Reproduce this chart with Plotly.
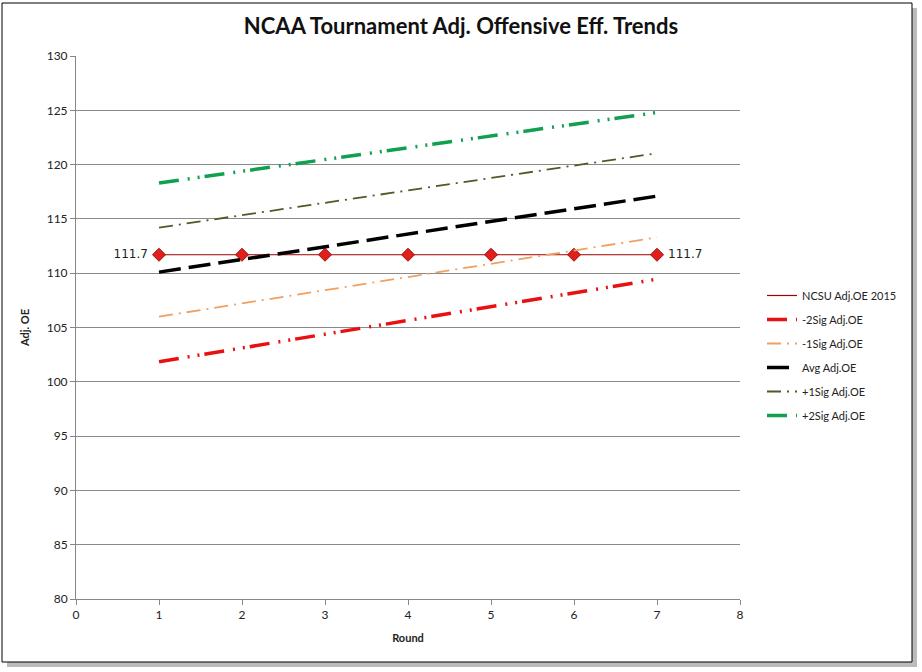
import plotly.graph_objects as go

# ---- data ----
rounds = [1, 2, 3, 4, 5, 6, 7]
ncsu_oe = [111.7, 111.7, 111.7, 111.7, 111.7, 111.7, 111.7]
trend_rounds = [1, 7]
minus2 = [101.85, 109.45]
minus1 = [106.0, 113.3]
avg = [110.1, 117.1]
plus1 = [114.2, 121.05]
plus2 = [118.3, 124.8]

title = "NCAA Tournament Adj. Offensive Eff. Trends"
FONT = "Lato, Open Sans, sans-serif"

fig = go.Figure()

# legend-only entry (line only, as in the reference legend)
fig.add_trace(go.Scatter(
    x=[None], y=[None], name="NCSU Adj.OE 2015", mode="lines",
    line=dict(color="#A00000", width=1.2), legendgroup="a",
))

labels = ["111.7 "] + [""] * 5 + [" 111.7"]
fig.add_trace(go.Scatter(
    x=rounds, y=ncsu_oe, name="NCSU Adj.OE 2015", mode="lines+markers+text",
    line=dict(color="#A00000", width=1),
    marker=dict(symbol="diamond", size=10, color="#E0201A", line=dict(color="#A01010", width=1)),
    text=labels,
    textposition=["middle left"] + ["middle center"] * 5 + ["middle right"],
    textfont=dict(size=12, color="#222222", family="DejaVu Sans, Verdana, sans-serif"),
    legendgroup="a", showlegend=False,
))

series = [
    ("-2Sig Adj.OE", minus2, "#E81010", 3.5, "20px,9px,2px,8px,2px,5px", "b"),
    ("-1Sig Adj.OE", minus1, "#F0A060", 1.8, "14px,6px,2px,6px", "c"),
    ("Avg Adj.OE", avg, "#000000", 3.5, "22px,8px", "d"),
    ("+1Sig Adj.OE", plus1, "#4F5A28", 1.8, "14px,6px,2px,6px", "e"),
    ("+2Sig Adj.OE", plus2, "#10A050", 3.5, "20px,9px,2px,8px,2px,5px", "f"),
]
for name, vals, col, w, dash, grp in series:
    fig.add_trace(go.Scatter(
        x=trend_rounds, y=vals, name=name, mode="lines",
        line=dict(color=col, width=w, dash=dash),
        legendgroup=grp,
    ))

L, R, T, B = 76, 740, 56, 599
W, H = 922, 672

def px(xp):
    return (xp - L) / (R - L)

def py(yp):
    return (B - yp) / (B - T)

shapes = [
    dict(type="rect", xref="paper", yref="paper", layer="below",
         x0=px(7), x1=px(917), y0=py(667), y1=py(8),
         fillcolor="#BBBBBB", line=dict(width=0)),
    dict(type="rect", xref="paper", yref="paper", layer="below",
         x0=px(2), x1=px(912), y0=py(662), y1=py(3),
         fillcolor="white", line=dict(color="black", width=1)),
]

fig.update_layout(
    width=W, height=H,
    margin=dict(l=L, r=W - R, t=T, b=H - B),
    paper_bgcolor="white",
    plot_bgcolor="rgba(0,0,0,0)",
    font=dict(family=FONT, color="#222222", size=12),
    title=dict(text="<b>" + title + "</b>", x=0.5, xref="container", xanchor="center",
               y=1 - 26 / H, yanchor="middle",
               font=dict(size=22, family=FONT, color="#111111")),
    shapes=shapes,
    showlegend=True,
    legend=dict(x=px(762), y=py(281), xanchor="left", yanchor="top",
                font=dict(size=11, family=FONT, color="#222222"),
                tracegroupgap=5, itemwidth=30, bgcolor="rgba(0,0,0,0)"),
    xaxis=dict(range=[0, 8], dtick=1, tick0=0, showgrid=False, zeroline=False,
               showline=True, linecolor="#868686", linewidth=1,
               ticks="outside", ticklen=5, tickcolor="#868686",
               tickfont=dict(size=12, family=FONT, color="#222222"),
               title=dict(text="<b>Round</b>", font=dict(size=11, family=FONT), standoff=12)),
    yaxis=dict(range=[80, 130], dtick=5, tick0=80, showgrid=True, gridcolor="#8A8A8A", gridwidth=1,
               zeroline=False, showline=True, linecolor="#868686", linewidth=1,
               ticks="outside", ticklen=5, tickcolor="#868686",
               tickfont=dict(size=12, family=FONT, color="#222222"),
               title=dict(text="<b>Adj. OE</b>", font=dict(size=11, family=FONT), standoff=14)),
)

fig.write_html("out.html", config={"displayModeBar": False},
               post_script="document.body.style.margin='0';document.body.style.overflow='hidden';")
